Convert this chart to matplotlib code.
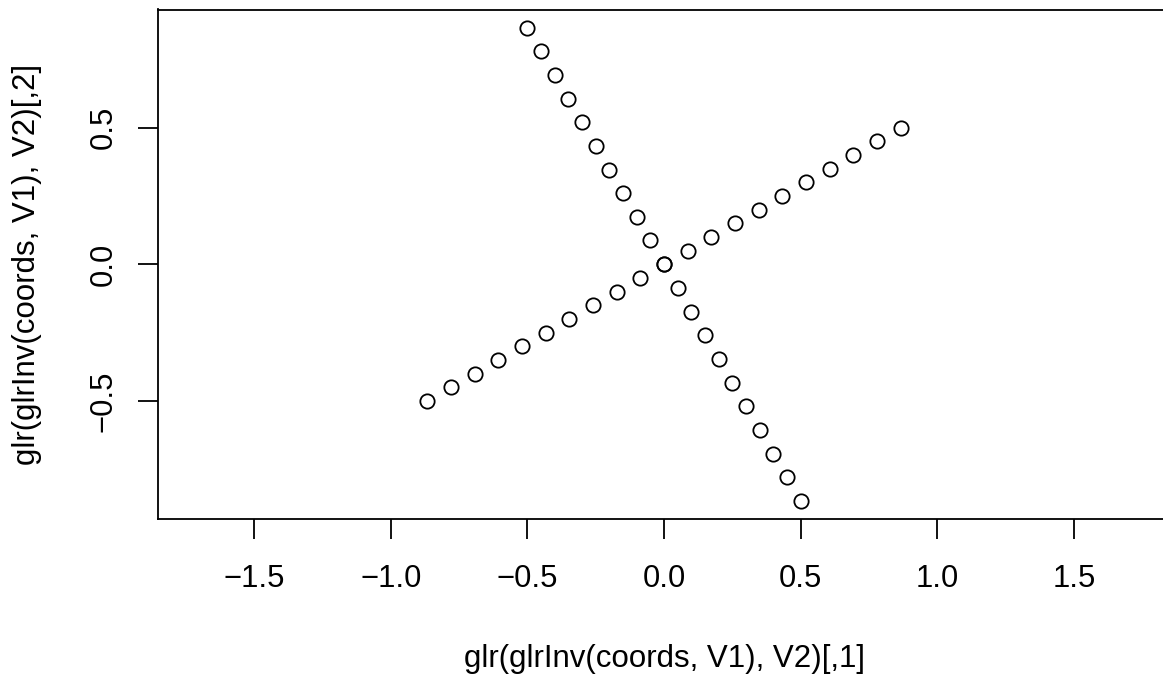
import matplotlib
matplotlib.use("Agg")
import matplotlib.pyplot as plt

# Line 1 (rising)
x1 = [-0.866, -0.779, -0.693, -0.606, -0.520, -0.433, -0.346, -0.260, -0.173, -0.087, 0.0,
      0.087, 0.173, 0.260, 0.346, 0.433, 0.520, 0.606, 0.693, 0.779, 0.866]
y1 = [-0.50, -0.45, -0.40, -0.35, -0.30, -0.25, -0.20, -0.15, -0.10, -0.05, 0.0,
      0.05, 0.10, 0.15, 0.20, 0.25, 0.30, 0.35, 0.40, 0.45, 0.50]
# Line 2 (falling)
x2 = [-0.50, -0.45, -0.40, -0.35, -0.30, -0.25, -0.20, -0.15, -0.10, -0.05, 0.0,
      0.05, 0.10, 0.15, 0.20, 0.25, 0.30, 0.35, 0.40, 0.45, 0.50]
y2 = [0.866, 0.779, 0.693, 0.606, 0.520, 0.433, 0.346, 0.260, 0.173, 0.087, 0.0,
      -0.087, -0.173, -0.260, -0.346, -0.433, -0.520, -0.606, -0.693, -0.779, -0.866]

xticks = [-1.5, -1.0, -0.5, 0.0, 0.5, 1.0, 1.5]
yticks = [-0.5, 0.0, 0.5]
xlabel = "glr(glrInv(coords, V1), V2)[,1]"
ylabel = "glr(glrInv(coords, V1), V2)[,2]"

plt.rcParams['font.family'] = ['Liberation Sans', 'DejaVu Sans']
W, H = 1163, 675
fig = plt.figure(figsize=(W/100, H/100), dpi=100)
left, right, top, bottom = 158, 1170, 9.5, 519
ax = fig.add_axes([left/W, (H-bottom)/H, (right-left)/W, (bottom-top)/H])

xs = x1 + x2
ys = y1 + y2
ax.plot(xs, ys, linestyle='none', marker='o', markersize=10.3, markerfacecolor='none',
        markeredgecolor='black', markeredgewidth=1.3, clip_on=False)

ax.set_xlim(-1.852, 1.852)
ax.set_ylim(-0.932, 0.932)
ax.set_xticks(xticks)
ax.set_xticklabels(["\u2212%.1f" % abs(t) if t < 0 else "%.1f" % t for t in xticks])
ax.set_yticks(yticks)
ax.set_yticklabels(["\u2212%.1f" % abs(t) if t < 0 else "%.1f" % t for t in yticks],
                   rotation=90, va='center')
for s in ax.spines.values():
    s.set_linewidth(1.3)
ax.tick_params(length=14.4, width=1.3, labelsize=22.3)
ax.tick_params(axis='x', pad=18)
ax.tick_params(axis='y', pad=14)

fig.text((left + right) / 2 / W, (H - 667) / H, xlabel, fontsize=22.5,
         ha='center', va='baseline')
fig.text(35 / W, (H - (top + bottom) / 2) / H, ylabel, fontsize=22.5,
         ha='center', va='baseline', rotation=90, rotation_mode='anchor')

fig.savefig("out.png", dpi=100)
